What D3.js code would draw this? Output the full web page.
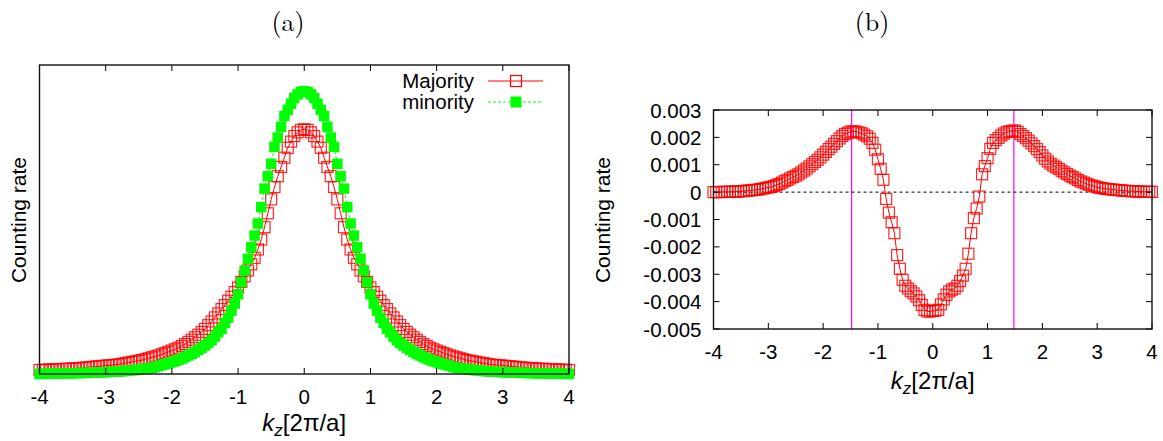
<!DOCTYPE html>
<html><head><meta charset="utf-8">
<script src="https://cdn.jsdelivr.net/npm/d3@7"></script>
<style>body{margin:0;background:#fff} svg{display:block}</style>
</head><body>
<svg id="c" width="1163" height="441"></svg>
<script>
// k_z grid [2pi/a]
const kz = [-4,-3.95,-3.9,-3.85,-3.8,-3.75,-3.7,-3.65,-3.6,-3.55,
-3.5,-3.45,-3.4,-3.35,-3.3,-3.25,-3.2,-3.15,-3.1,-3.05,
-3,-2.95,-2.9,-2.85,-2.8,-2.75,-2.7,-2.65,-2.6,-2.55,
-2.5,-2.45,-2.4,-2.35,-2.3,-2.25,-2.2,-2.15,-2.1,-2.05,
-2,-1.95,-1.9,-1.85,-1.8,-1.75,-1.7,-1.65,-1.6,-1.55,
-1.5,-1.45,-1.4,-1.35,-1.3,-1.25,-1.2,-1.15,-1.1,-1.05,
-1,-0.95,-0.9,-0.85,-0.8,-0.75,-0.7,-0.65,-0.6,-0.55,
-0.5,-0.45,-0.4,-0.35,-0.3,-0.25,-0.2,-0.15,-0.1,-0.05,
0,0.05,0.1,0.15,0.2,0.25,0.3,0.35,0.4,0.45,
0.5,0.55,0.6,0.65,0.7,0.75,0.8,0.85,0.9,0.95,
1,1.05,1.1,1.15,1.2,1.25,1.3,1.35,1.4,1.45,
1.5,1.55,1.6,1.65,1.7,1.75,1.8,1.85,1.9,1.95,
2,2.05,2.1,2.15,2.2,2.25,2.3,2.35,2.4,2.45,
2.5,2.55,2.6,2.65,2.7,2.75,2.8,2.85,2.9,2.95,
3,3.05,3.1,3.15,3.2,3.25,3.3,3.35,3.4,3.45,
3.5,3.55,3.6,3.65,3.7,3.75,3.8,3.85,3.9,3.95,4];

// panel (a): counting rate, arbitrary units
const majority = [13,13,14,14,15,15,16,16,17,17,
18,18,19,20,21,22,23,24,25,26,
27,28,29,30,31,33,35,37,39,41,
43,45,48,51,54,57,60,64,68,72,
76,80,85,91,97,104,111,119,127,136,
146,158,170,183,196,210,223,237,250,265,
280,298,316,335,355,376,403,435,475,520,
565,605,640,670,700,732,752,770,782,790,
792,
790,782,770,752,732,700,670,640,605,
565,520,475,435,403,376,355,335,316,298,
280,265,250,237,223,210,196,183,170,158,
146,136,127,119,111,104,97,91,85,80,
76,72,68,64,60,57,54,51,48,45,
43,41,39,37,35,33,31,30,29,28,
27,26,25,24,23,22,21,20,19,18,
18,17,17,16,16,15,15,14,14,13,13];

const minority = [0.3,0.4,0.6,0.8,1,1.2,1.4,1.6,1.8,2.1,
2.4,2.7,3,3.4,3.7,4,4.4,4.7,5,5.5,
6,6.5,7,7.5,8,9,10,11,12,13,
14,16,17,19,20,23,26,29,32,35,
38,42,46,50,55,60,65,71,78,85,
92,100,109,121,135,146,165,182,205,228,
258,297,335,373,410,448,487,540,600,640,
680,735,765,800,835,855,875,893,905,913,
915,
913,905,893,875,855,835,800,765,735,680,
640,600,540,487,448,410,373,335,297,258,
228,205,182,165,146,135,121,109,100,92,
85,78,71,65,60,55,50,46,42,38,
35,32,29,26,23,20,19,17,16,14,
13,12,11,10,9,8,7.5,7,6.5,6,
5.5,5,4.7,4.4,4,3.7,3.4,3,2.7,2.4,
2.1,1.8,1.6,1.4,1.2,1,0.8,0.6,0.4,0.3];

// panel (b): counting rate difference, units of 1e-3
const diffRate = [0.00,0.00,0.00,0.01,0.01,0.01,0.01,0.02,0.02,0.02,
0.03,0.04,0.05,0.06,0.07,0.08,0.09,0.11,0.13,0.15,
0.17,0.19,0.22,0.26,0.30,0.35,0.40,0.45,0.50,0.55,
0.60,0.65,0.72,0.79,0.86,0.94,1.02,1.10,1.18,1.27,
1.37,1.47,1.57,1.66,1.76,1.86,1.96,2.05,2.12,2.17,
2.21,2.22,2.21,2.18,2.15,2.10,2.04,1.95,1.80,1.55,
1.20,0.85,0.45,-0.25,-0.75,-1.10,-1.50,-2.30,-2.80,-3.20,
-3.42,-3.52,-3.62,-3.70,-3.81,-3.95,-4.12,-4.30,-4.36,-4.36,
-4.34,-4.33,-4.30,-4.10,-3.92,-3.75,-3.63,-3.56,-3.52,-3.42,
-3.25,-3.05,-2.80,-2.25,-1.50,-0.95,-0.60,-0.16,0.65,0.95,
1.24,1.58,1.80,1.90,1.98,2.07,2.14,2.19,2.22,2.24,
2.25,2.20,2.12,2.05,1.97,1.88,1.78,1.68,1.57,1.46,
1.34,1.22,1.12,1.04,0.97,0.91,0.85,0.78,0.72,0.66,
0.60,0.55,0.50,0.44,0.39,0.35,0.31,0.27,0.24,0.21,
0.18,0.16,0.14,0.12,0.11,0.10,0.09,0.08,0.07,0.06,
0.05,0.04,0.04,0.03,0.03,0.02,0.02,0.01,0.01,0.01,0.01];

const xTicks = [-4,-3,-2,-1,0,1,2,3,4];
const yTicksB = [0.003,0.002,0.001,0,-0.001,-0.002,-0.003,-0.004,-0.005];
const yTickLabelsB = ["0.003","0.002","0.001","0","-0.001","-0.002","-0.003","-0.004","-0.005"];
const vLinesB = [-1.48, 1.48];
const seriesNames = ["Majority","minority"];
const panelTitles = ["(a)","(b)"];

const svg = d3.select("#c");
const SANS = "'Liberation Sans', Arial, Helvetica, sans-serif";
const SERIF = "'Latin Modern Roman','CMU Serif','Liberation Serif','DejaVu Serif',serif";
const RED = "#ff0000", GREEN = "#00ff00", MAG = "#ff00ff";

function frameAndTicks(g, x, y, opt) {
  const [x0, x1] = x.range(), [y0, y1] = y.range(); // y0 bottom, y1 top
  const tl = 6;
  xTicks.forEach(t => {
    g.append("line").attr("x1", x(t)).attr("x2", x(t)).attr("y1", y0).attr("y2", y0 - tl)
      .attr("stroke", "#000").attr("stroke-width", 1);
    g.append("line").attr("x1", x(t)).attr("x2", x(t)).attr("y1", y1).attr("y2", y1 + tl)
      .attr("stroke", "#000").attr("stroke-width", 1);
    g.append("text").attr("x", x(t)).attr("y", y0 + 30).attr("text-anchor", "middle")
      .attr("font-family", SANS).attr("font-size", 20.5).text(t);
  });
  if (opt.yTicks) {
    opt.yTicks.forEach((t, i) => {
      g.append("line").attr("x1", x0).attr("x2", x0 + tl).attr("y1", y(t)).attr("y2", y(t))
        .attr("stroke", "#000").attr("stroke-width", 1);
      g.append("line").attr("x1", x1).attr("x2", x1 - tl).attr("y1", y(t)).attr("y2", y(t))
        .attr("stroke", "#000").attr("stroke-width", 1);
      g.append("text").attr("x", x0 - 12).attr("y", y(t) + 7.5).attr("text-anchor", "end")
        .attr("font-family", SANS).attr("font-size", 20.5).text(opt.yLabels[i]);
    });
  }
  g.append("rect").attr("x", x0).attr("y", y1).attr("width", x1 - x0).attr("height", y0 - y1)
    .attr("fill", "none").attr("stroke", "#111").attr("stroke-width", 1.4);
  const xt = g.append("text").attr("x", x(0)).attr("y", opt.xTitleY).attr("text-anchor", "middle")
    .attr("font-family", SANS).attr("font-size", 24);
  xt.append("tspan").attr("font-style", "italic").text("k");
  xt.append("tspan").attr("font-style", "italic").attr("font-size", 17).attr("dy", 5).text("z");
  xt.append("tspan").attr("dy", -5).text("[2π/a]");
  g.append("text").attr("transform", `translate(${opt.yTitleX},220) rotate(-90)`)
    .attr("text-anchor", "middle").attr("font-family", SANS).attr("font-size", 21)
    .text("Counting rate");
  g.append("text").attr("x", opt.titleX).attr("y", 31).attr("text-anchor", "middle")
    .attr("font-family", SERIF).attr("font-size", 26).text(opt.title);
}

function squares(g, x, y, xs, ys, filled, color, size) {
  g.selectAll(null).data(xs.map((d, i) => [d, ys[i]])).enter().append("rect")
    .attr("x", d => x(d[0]) - size / 2).attr("y", d => y(d[1]) - size / 2)
    .attr("width", size).attr("height", size)
    .attr("fill", filled ? color : "none")
    .attr("stroke", filled ? "none" : color).attr("stroke-width", 1.2)
    .attr("stroke-opacity", filled ? 1 : 0.85);
}

// ---------- Panel (a) ----------
const xa = d3.scaleLinear().domain([-4, 4]).range([39.5, 569]);
const ya = d3.scaleLinear().domain([0, 1000]).range([374, 65]);
const ga = svg.append("g");
const lineA = (ys) => d3.line().x((d, i) => xa(kz[i])).y((d) => ya(d))(ys);
ga.append("path").attr("d", lineA(majority)).attr("fill", "none").attr("stroke", RED).attr("stroke-width", 1);
squares(ga, xa, ya, kz, majority, false, RED, 11);
ga.append("path").attr("d", lineA(minority)).attr("fill", "none").attr("stroke", GREEN)
  .attr("stroke-width", 1).attr("stroke-dasharray", "3,2");
squares(ga, xa, ya, kz, minority, true, GREEN, 10.5);
frameAndTicks(ga, xa, ya, {xTitleY: 431, yTitleX: 26, titleX: 288, title: panelTitles[0]});

// legend
const lg = ga.append("g");
[0, 1].forEach(i => {
  const yy = 81 + i * 21;
  lg.append("text").attr("x", 474).attr("y", yy + 7).attr("text-anchor", "end")
    .attr("font-family", SANS).attr("font-size", 20.5).text(seriesNames[i]);
  lg.append("line").attr("x1", 488).attr("x2", 543).attr("y1", yy).attr("y2", yy)
    .attr("stroke", i === 0 ? RED : GREEN).attr("stroke-width", 1)
    .attr("stroke-dasharray", i === 0 ? null : "3,2");
  if (i === 0) {
    lg.append("rect").attr("x", 510.5).attr("y", yy - 5.5).attr("width", 11).attr("height", 11)
      .attr("fill", "none").attr("stroke", RED).attr("stroke-width", 1.2);
  } else {
    lg.append("rect").attr("x", 510.5).attr("y", yy - 5.5).attr("width", 11).attr("height", 11)
      .attr("fill", GREEN);
  }
});

// ---------- Panel (b) ----------
const xb = d3.scaleLinear().domain([-4, 4]).range([713.5, 1152]);
const yb = d3.scaleLinear().domain([-0.005, 0.003]).range([329, 110]);
const gb = svg.append("g");
vLinesB.forEach(v => {
  gb.append("line").attr("x1", xb(v)).attr("x2", xb(v)).attr("y1", yb(0.003)).attr("y2", yb(-0.005))
    .attr("stroke", MAG).attr("stroke-width", 1.2);
});
gb.append("line").attr("x1", xb(-4)).attr("x2", xb(4)).attr("y1", yb(0)).attr("y2", yb(0))
  .attr("stroke", "#000").attr("stroke-width", 1).attr("stroke-dasharray", "3,3");
const diffVals = diffRate.map(d => d * 1e-3);
gb.append("path").attr("d", d3.line().x((d, i) => xb(kz[i])).y(d => yb(d))(diffVals))
  .attr("fill", "none").attr("stroke", RED).attr("stroke-width", 1);
squares(gb, xb, yb, kz, diffVals, false, RED, 11);
frameAndTicks(gb, xb, yb, {yTicks: yTicksB, yLabels: yTickLabelsB, xTitleY: 389, yTitleX: 610, titleX: 872, title: panelTitles[1]});
</script>
</body></html>
